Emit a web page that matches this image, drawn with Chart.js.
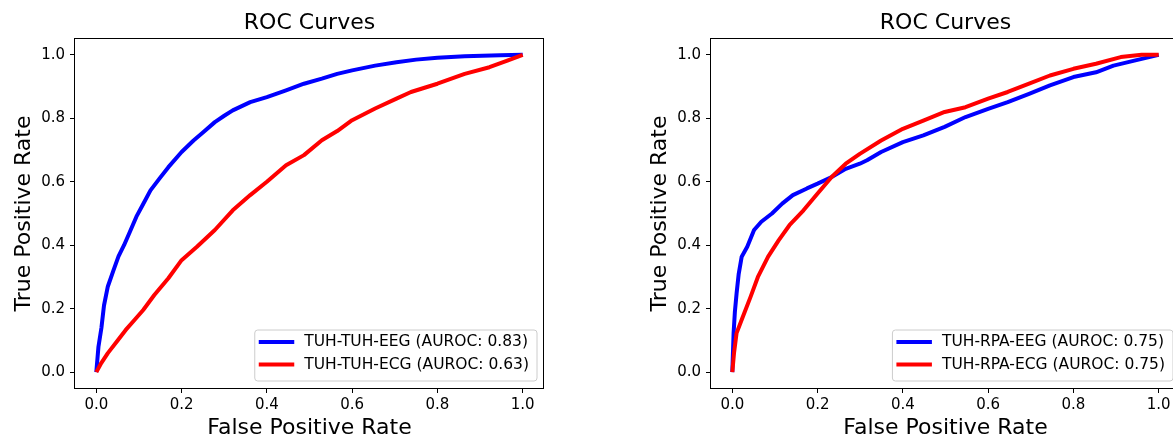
<!DOCTYPE html>
<html><head><meta charset="utf-8">
<script src="https://cdn.jsdelivr.net/npm/chart.js@4/dist/chart.umd.min.js"></script>
<style>
html,body{margin:0;padding:0;background:#fff;width:1173px;height:436px;overflow:hidden;position:relative;}
canvas{position:absolute;top:0;}
#c1{left:0}
#c2{left:636px}
</style></head><body>
<canvas id="c1" width="560" height="441"></canvas>
<canvas id="c2" width="560" height="441"></canvas>
<script>
const chartTitle = 'ROC Curves';
const xAxisLabel = 'False Positive Rate';
const yAxisLabel = 'True Positive Rate';
const tickValues = [0, 0.2, 0.4, 0.6, 0.8, 1.0];

const leftLabels = ['TUH-TUH-EEG (AUROC: 0.83)', 'TUH-TUH-ECG (AUROC: 0.63)'];
const leftEegFpr = [0, 0.005, 0.012, 0.018, 0.027, 0.04, 0.052, 0.065, 0.077, 0.094, 0.11, 0.127, 0.148, 0.169, 0.2, 0.228, 0.25, 0.278, 0.3, 0.32, 0.361, 0.4, 0.445, 0.487, 0.529, 0.565, 0.6, 0.654, 0.704, 0.75, 0.8, 0.864, 0.947, 1];
const leftEegTpr = [0, 0.08, 0.14, 0.21, 0.27, 0.32, 0.365, 0.40, 0.437, 0.49, 0.53, 0.573, 0.61, 0.646, 0.694, 0.73, 0.755, 0.788, 0.808, 0.825, 0.851, 0.867, 0.888, 0.909, 0.925, 0.94, 0.951, 0.966, 0.977, 0.985, 0.991, 0.996, 0.999, 1];
const leftEcgFpr = [0, 0.01, 0.027, 0.05, 0.069, 0.09, 0.11, 0.136, 0.169, 0.2, 0.236, 0.278, 0.32, 0.361, 0.4, 0.445, 0.487, 0.529, 0.565, 0.6, 0.654, 0.704, 0.738, 0.8, 0.864, 0.922, 0.964, 1];
const leftEcgTpr = [0, 0.025, 0.06, 0.1, 0.133, 0.165, 0.196, 0.243, 0.296, 0.353, 0.395, 0.448, 0.51, 0.558, 0.6, 0.652, 0.684, 0.731, 0.76, 0.794, 0.831, 0.862, 0.883, 0.909, 0.94, 0.961, 0.982, 1];

const rightLabels = ['TUH-RPA-EEG (AUROC: 0.75)', 'TUH-RPA-ECG (AUROC: 0.75)'];
const rightEegFpr = [0, 0.003, 0.006, 0.01, 0.015, 0.022, 0.035, 0.051, 0.068, 0.093, 0.117, 0.142, 0.175, 0.2, 0.233, 0.266, 0.299, 0.316, 0.349, 0.4, 0.448, 0.498, 0.547, 0.6, 0.646, 0.696, 0.745, 0.8, 0.853, 0.894, 0.943, 1];
const rightEegTpr = [0, 0.123, 0.19, 0.248, 0.31, 0.364, 0.395, 0.448, 0.474, 0.5, 0.531, 0.558, 0.579, 0.594, 0.615, 0.641, 0.657, 0.668, 0.694, 0.725, 0.746, 0.773, 0.804, 0.83, 0.851, 0.877, 0.904, 0.93, 0.945, 0.966, 0.982, 1];
const rightEcgFpr = [0, 0.004, 0.01, 0.022, 0.043, 0.06, 0.084, 0.109, 0.134, 0.167, 0.2, 0.233, 0.266, 0.299, 0.349, 0.4, 0.448, 0.498, 0.547, 0.6, 0.646, 0.696, 0.745, 0.8, 0.853, 0.911, 0.96, 1];
const rightEcgTpr = [0, 0.06, 0.123, 0.165, 0.238, 0.3, 0.364, 0.416, 0.463, 0.51, 0.563, 0.615, 0.657, 0.688, 0.73, 0.767, 0.793, 0.82, 0.835, 0.862, 0.883, 0.909, 0.935, 0.956, 0.972, 0.993, 1.0, 1];

const FONT = 'DejaVu Sans';
const toPts = (xs, ys) => xs.map((x, i) => ({x: x, y: ys[i]}));

const framePlugin = {
  id: 'frameLegend',
  afterDatasetsDraw(chart) {
    const {ctx, chartArea: a} = chart;
    ctx.save();
    ctx.strokeStyle = '#000';
    ctx.lineWidth = 1;
    ctx.strokeRect(a.left - 0.5, a.top - 0.5, a.right - a.left, a.bottom - a.top + 1);
    // legend
    ctx.font = '15.5px "' + FONT + '"';
    const labels = chart.data.datasets.map(d => d.label);
    const tw = Math.max(...labels.map(l => ctx.measureText(l).width));
    const w = 4.5 + 35.5 + 10 + tw + 7.5;
    const h = 51;
    const right = a.right - 7.5, bottom = a.bottom - 7.5;
    const left = right - w, top = bottom - h;
    ctx.beginPath();
    ctx.roundRect(left + 0.5, top + 0.5, w, h, 3);
    ctx.fillStyle = 'rgba(255,255,255,0.8)';
    ctx.fill();
    ctx.strokeStyle = '#cccccc';
    ctx.stroke();
    chart.data.datasets.forEach((d, i) => {
      const cy = top + 12.5 + i * 22.6;
      ctx.beginPath();
      ctx.strokeStyle = d.borderColor;
      ctx.lineWidth = 4;
      ctx.moveTo(left + 4.5, cy);
      ctx.lineTo(left + 40, cy);
      ctx.stroke();
      ctx.fillStyle = '#000';
      ctx.textBaseline = 'middle';
      ctx.textAlign = 'left';
      ctx.fillText(d.label, left + 50, cy);
    });
    ctx.restore();
  }
};

function makeChart(id, labels, eegF, eegT, ecgF, ecgT) {
  const tickFont = {family: FONT, size: 15};
  return new Chart(document.getElementById(id), {
    type: 'line',
    data: {
      datasets: [
        {label: labels[0], data: toPts(eegF, eegT), borderColor: '#0000ff', order: 1},
        {label: labels[1], data: toPts(ecgF, ecgT), borderColor: '#ff0000', order: 0}
      ]
    },
    options: {
      responsive: false,
      animation: false,
      parsing: false,
      elements: {
        line: {borderWidth: 4, tension: 0, fill: false, borderCapStyle: 'butt', borderJoinStyle: 'round'},
        point: {radius: 0, hoverRadius: 0}
      },
      layout: {padding: {left: 0, right: 16, top: 0, bottom: 0}},
      plugins: {
        legend: {display: false},
        tooltip: {enabled: false},
        title: {
          display: true, text: chartTitle, fullSize: false,
          font: {family: FONT, size: 22, weight: 'normal', lineHeight: 1.2},
          color: '#000', padding: {top: 10, bottom: 2.6}
        }
      },
      scales: {
        x: {
          type: 'linear', min: -0.05, max: 1.05,
          afterBuildTicks: s => { s.ticks = tickValues.map(v => ({value: v})); },
          afterFit: s => { s.height = 53; },
          ticks: {callback: v => Number(v).toFixed(1), font: tickFont, color: '#000', padding: 3, maxRotation: 0, autoSkip: false},
          grid: {drawOnChartArea: false, drawTicks: true, tickLength: 5, color: '#000', tickColor: '#000'},
          border: {display: false},
          title: {display: true, text: xAxisLabel, color: '#000', font: {family: FONT, size: 22, lineHeight: 1.2}, padding: {top: 0, bottom: 0}}
        },
        y: {
          type: 'linear', min: -0.05, max: 1.05,
          afterBuildTicks: s => { s.ticks = tickValues.map(v => ({value: v})); },
          afterFit: s => { s.width = 75; },
          ticks: {callback: v => Number(v).toFixed(1), font: tickFont, color: '#000', padding: 5, autoSkip: false},
          grid: {drawOnChartArea: false, drawTicks: true, tickLength: 5, color: '#000', tickColor: '#000'},
          border: {display: false},
          title: {display: true, text: yAxisLabel, color: '#000', font: {family: FONT, size: 22, lineHeight: 1.2}, padding: {top: 10.8, bottom: 0}}
        }
      }
    },
    plugins: [framePlugin]
  });
}

makeChart('c1', leftLabels, leftEegFpr, leftEegTpr, leftEcgFpr, leftEcgTpr);
makeChart('c2', rightLabels, rightEegFpr, rightEegTpr, rightEcgFpr, rightEcgTpr);
</script>
</body></html>
